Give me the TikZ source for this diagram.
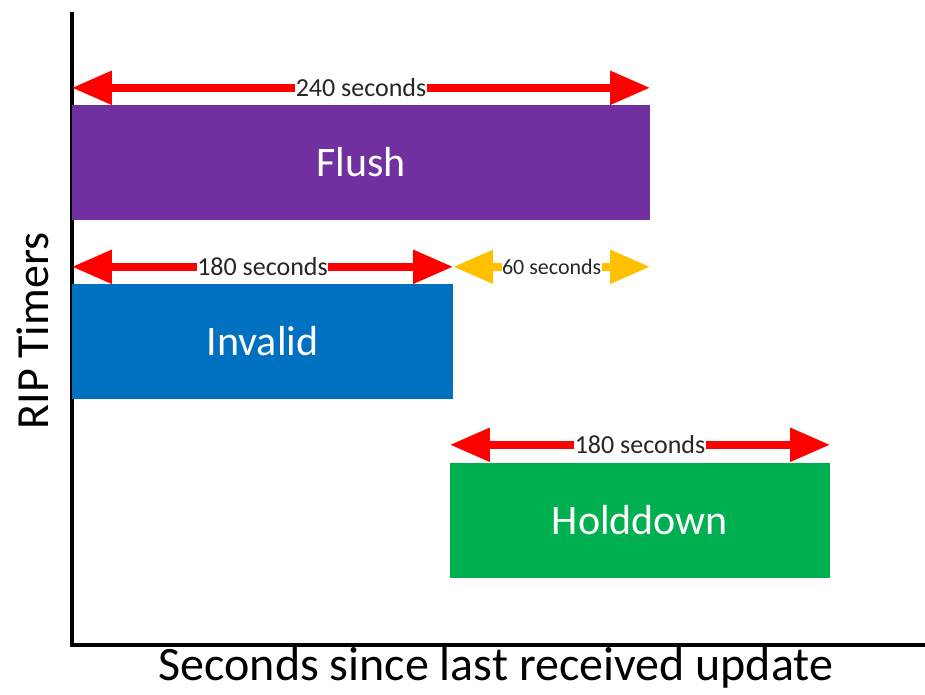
\documentclass[tikz,border=0pt]{standalone}
\usepackage{fontspec}
\setmainfont{Carlito}
\usetikzlibrary{positioning,arrows.meta}
\definecolor{flushpurple}{HTML}{7030A0}
\definecolor{invalidblue}{HTML}{0070C0}
\definecolor{holdgreen}{HTML}{00B050}
\definecolor{spanyellow}{HTML}{FFC000}

\begin{document}
\begin{tikzpicture}[
    x=1pt,y=-1pt,
    timer/.style={inner sep=0pt,text=white,minimum height=115pt,font=\fontsize{42}{46}\selectfont},
    span/.style={draw=red,line width=8pt,{Triangle[length=40pt,width=32pt]}-{Triangle[length=40pt,width=32pt]}},
    secs/.style={fill=white,text=black!85,inner sep=0.5pt,font=\fontsize{26}{28}\selectfont},
    axis/.style={line width=3.5pt}
  ]
    \useasboundingbox (0,0) rectangle (925,695);
    % axes
    \coordinate (top) at (72,12);
    \coordinate (origin) at (72,645);
    \coordinate (right) at (925,645);
    \draw[axis,black!35,shift={(2,2)}] (top) -- (origin) -- (right);
    \draw[axis] (top) -- (origin) -- (right);
    \node[rotate=90,font=\fontsize{46}{50}\selectfont] (ylabel) at (33,331) {RIP Timers};
    \node[font=\fontsize{48}{52}\selectfont] (xlabel) at (496,668) {Seconds since last received update};
    % timer bars
    \node[timer,fill=flushpurple,minimum width=578pt] (flush) at (361,162.5) {Flush};
    \node[timer,fill=invalidblue,minimum width=381pt] (invalid) at (262.5,341.5) {Invalid};
    \node[timer,fill=holdgreen,minimum width=380pt] (holddown) at (640,520.5) {Holddown};
    % spans
    \draw[span] ([yshift=17pt]flush.north west) -- ([yshift=17pt]flush.north east)
      node[midway,secs] {240 seconds};
    \draw[span] ([yshift=17pt]invalid.north west) -- ([yshift=17pt]invalid.north east)
      node[midway,secs] {180 seconds};
    \coordinate (sixtystart) at ([yshift=17pt]invalid.north east);
    \coordinate (sixtyend) at (flush.east |- sixtystart);
    \draw[span,draw=spanyellow] (sixtystart) -- (sixtyend)
      node[midway,secs,font=\fontsize{22}{24}\selectfont] {60 seconds};
    \draw[span] ([yshift=18pt]holddown.north west) -- ([yshift=18pt]holddown.north east)
      node[midway,secs] {180 seconds};
  \end{tikzpicture}
\end{document}
